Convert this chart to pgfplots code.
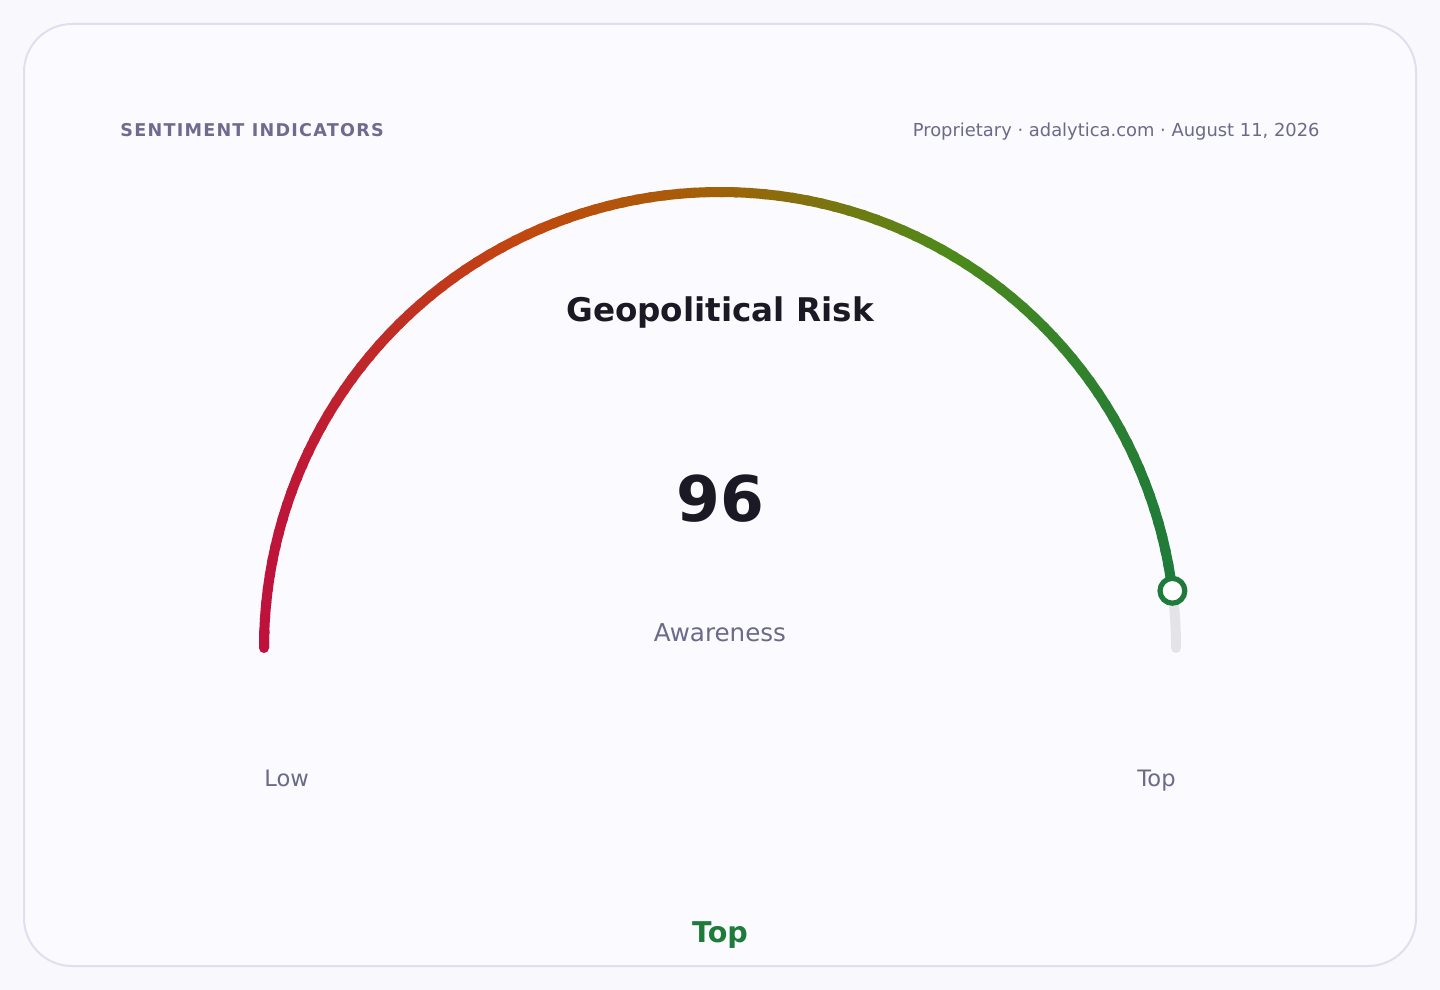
\documentclass[border=0pt]{standalone}
\usepackage{pgfplots}
\pgfplotsset{compat=1.18}
\usepackage{fontspec}
\setmainfont{DejaVu Sans}
\newfontfamily\spaced[LetterSpace=7]{DejaVu Sans}

\definecolor{pagebg}{HTML}{F8F8FD}
\definecolor{cardbg}{HTML}{FAFAFF}
\definecolor{cardline}{HTML}{E1DFEF}
\definecolor{muted}{HTML}{6B6A88}
\definecolor{headc}{HTML}{6F6B8F}
\definecolor{ink}{HTML}{1B1A24}
\definecolor{trackc}{HTML}{E3E3E8}
% gauge gradient stops (left to right)
\definecolor{gA}{HTML}{BE123C}
\definecolor{gB}{HTML}{C2470E}
\definecolor{gC}{HTML}{A16207}
\definecolor{gD}{HTML}{4D8A1A}
\definecolor{gE}{HTML}{1E7B3A}

% gauge: value 96 on a 0..100 scale, centre (720,648), radius 456 px

\begin{document}
\begin{tikzpicture}
\begin{axis}[
    scale only axis, width=720pt, height=495pt,
    xmin=0, xmax=1440, ymin=0, ymax=990, y dir=reverse,
    hide axis, clip=false]

  \fill[pagebg] (axis cs:0,0) rectangle (axis cs:1440,990);
  \draw[cardline, fill=cardbg, line width=1pt, rounded corners=24pt]
    (axis cs:24,24) rectangle (axis cs:1416,966);

  % header
  \node[anchor=base west, font=\spaced\bfseries\fontsize{8.8}{10}\selectfont, text=headc, inner sep=0pt]
    at (axis cs:120,137) {SENTIMENT INDICATORS};
  \node[anchor=base east, font=\fontsize{8.95}{10}\selectfont, text=muted, inner sep=0pt]
    at (axis cs:1320,137) {Proprietary · adalytica.com · August 11, 2026};

  % track from value to 100
  \draw[trackc, line width=5pt, line cap=round]
    (axis cs:1172.4,590.8) arc[start angle=7.2, end angle=0, radius=228pt];

  % rounded start of the coloured arc
  \draw[gA, line width=5pt, line cap=round]
    (axis cs:264,648) arc[start angle=180, end angle=178, radius=228pt];

  % coloured arc from 0 to value
  \foreach \k in {0,...,95}{
    \pgfmathsetmacro\segA{180-1.8*\k}
    \pgfmathsetmacro\segB{180-1.8*(\k+1)-(\k<95 ? 0.5 : 0)}
    \pgfmathsetmacro\segM{180-1.8*(\k+0.5)}
    \pgfmathsetmacro\segT{(1+cos(\segM))/2}
    \ifdim\segT pt<0.28pt
      \pgfmathsetmacro\segP{\segT/0.28*100}\edef\segC{gB!\segP!gA}
    \else\ifdim\segT pt<0.5pt
      \pgfmathsetmacro\segP{(\segT-0.28)/0.22*100}\edef\segC{gC!\segP!gB}
    \else\ifdim\segT pt<0.75pt
      \pgfmathsetmacro\segP{(\segT-0.5)/0.25*100}\edef\segC{gD!\segP!gC}
    \else
      \pgfmathsetmacro\segP{(\segT-0.75)/0.25*100}\edef\segC{gE!\segP!gD}
    \fi\fi\fi
    \edef\segCmd{\noexpand\draw[color={\segC}, line width=5pt, line cap=butt]
      ([shift={(\segA:228pt)}]axis cs:720,648) arc[start angle=\segA, end angle=\segB, radius=228pt];}
    \segCmd
  }

  % value marker
  \addplot[only marks, mark=*, mark size=6.2pt,
    mark options={fill=white, draw=gE, line width=2.6pt}]
    coordinates {(1172.4,590.8)};

  % texts
  \node[anchor=base, font=\bfseries\fontsize{16.3}{18}\selectfont, text=ink, inner sep=0pt]
    at (axis cs:720,321) {Geopolitical Risk};
  \node[anchor=base, font=\bfseries\fontsize{31.5}{34}\selectfont, text=ink, inner sep=0pt]
    at (axis cs:720,521) {96};
  \node[anchor=base, font=\fontsize{12.3}{14}\selectfont, text=muted, inner sep=0pt]
    at (axis cs:720,641) {Awareness};
  \node[anchor=base west, font=\fontsize{11.3}{13}\selectfont, text=muted, inner sep=0pt]
    at (axis cs:264,786) {Low};
  \node[anchor=base east, font=\fontsize{11.3}{13}\selectfont, text=muted, inner sep=0pt]
    at (axis cs:1176,786) {Top};
  \node[anchor=base, font=\bfseries\fontsize{14.3}{16}\selectfont, text=gE, inner sep=0pt]
    at (axis cs:720,942) {Top};
\end{axis}
\end{tikzpicture}
\end{document}
